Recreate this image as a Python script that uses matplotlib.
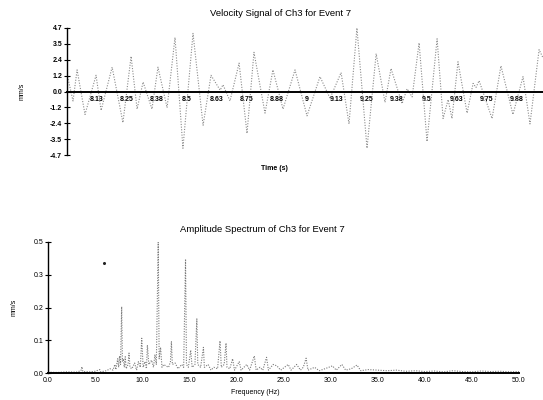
import matplotlib
matplotlib.use('Agg')
import matplotlib.pyplot as plt

plt.rcParams['font.family'] = ['Liberation Sans', 'DejaVu Sans']

# velocity signal, extrema (s, mm/s)
t = [8.000, 8.025, 8.042, 8.075, 8.121, 8.142, 8.188, 8.233, 8.267, 8.292,
     8.317, 8.354, 8.379, 8.417, 8.450, 8.483, 8.525, 8.567, 8.600, 8.638,
     8.650, 8.679, 8.717, 8.750, 8.779, 8.825, 8.858, 8.900, 8.950, 9.000,
     9.054, 9.096, 9.142, 9.175, 9.208, 9.250, 9.288, 9.325, 9.350, 9.396,
     9.417, 9.438, 9.467, 9.500, 9.542, 9.567, 9.588, 9.604, 9.629, 9.667,
     9.692, 9.704, 9.717, 9.771, 9.808, 9.858, 9.900, 9.929, 9.967, 9.983]
vel = [1.3, -0.7, 1.6, -1.7, 1.2, -1.4, 1.8, -2.3, 2.6, -1.3,
       0.7, -1.3, 1.8, -1.2, 4.0, -4.2, 4.3, -2.5, 1.2, 0.1,
       0.5, -0.7, 2.1, -3.1, 2.9, -1.6, 1.6, -1.3, 1.6, -1.8,
       1.1, -0.5, 1.4, -2.4, 4.7, -4.2, 2.8, -0.8, 1.7, -0.9,
       0.2, -0.4, 3.6, -3.7, 3.9, -2.0, -0.6, -2.0, 2.2, -1.6,
       0.6, 0.3, 0.8, -2.0, 1.9, -1.7, 1.1, -2.4, 3.1, 2.5]

t_ticks = [8.125, 8.25, 8.375, 8.5, 8.625, 8.75, 8.875, 9.0, 9.125, 9.25,
           9.375, 9.5, 9.625, 9.75, 9.875]
t_labels = ['8.13', '8.25', '8.38', '8.5', '8.63', '8.75', '8.88', '9', '9.13',
            '9.25', '9.38', '9.5', '9.63', '9.75', '9.88']
v_ticks = [-4.7, -3.525, -2.35, -1.175, 0, 1.175, 2.35, 3.525, 4.7]
v_labels = ['-4.7', '-3.5', '-2.4', '-1.2', '0.0', '1.2', '2.4', '3.5', '4.7']

# amplitude spectrum (Hz, mm/s)
freq = [0.0, 1.0, 2.0, 3.0, 3.5, 3.6, 3.7, 4.5, 5.0, 5.5, 5.6, 6.2, 6.6, 6.9,
        7.1, 7.2, 7.4, 7.5, 7.6, 7.7, 7.82, 7.9, 8.0, 8.1, 8.2, 8.3, 8.5, 8.6,
        8.7, 8.9, 9.2, 9.4, 9.6, 9.8, 9.95, 10.1, 10.3, 10.45, 10.55, 10.7,
        11.0, 11.2, 11.35, 11.5, 11.7, 11.8, 11.95, 12.1, 12.3, 12.5, 12.8,
        13.0, 13.1, 13.2, 13.5, 13.8, 14.2, 14.4, 14.6, 14.7, 14.9, 15.15,
        15.3, 15.6, 15.8, 15.9, 16.2, 16.5, 16.6, 17.0, 17.3, 17.6, 18.0,
        18.26, 18.4, 18.7, 18.9, 19.0, 19.3, 19.6, 19.8, 20.3, 20.5, 20.8,
        21.1, 21.4, 21.9, 22.1, 22.5, 22.8, 23.2, 23.4, 23.9, 24.3, 24.7,
        25.1, 25.5, 25.8, 26.4, 26.8, 27.1, 27.4, 27.6, 28.3, 28.8, 29.4,
        30.2, 30.6, 31.2, 31.6, 32.2, 32.8, 33.2, 34.0, 35.0, 36.0, 37.0,
        38.0, 39.0, 40.0, 41.0, 42.0, 43.0, 44.0, 45.0, 46.0, 47.0, 48.0,
        49.0, 50.0]
amp = [0.003, 0.002, 0.004, 0.003, 0.008, 0.022, 0.005, 0.004, 0.006, 0.012,
       0.004, 0.008, 0.015, 0.010, 0.030, 0.012, 0.050, 0.020, 0.060, 0.030,
       0.233, 0.040, 0.050, 0.020, 0.057, 0.015, 0.030, 0.070, 0.020, 0.015,
       0.035, 0.010, 0.040, 0.020, 0.122, 0.020, 0.040, 0.015, 0.098, 0.030,
       0.045, 0.020, 0.065, 0.030, 0.460, 0.050, 0.090, 0.020, 0.030, 0.025,
       0.020, 0.040, 0.110, 0.030, 0.035, 0.015, 0.030, 0.020, 0.400, 0.030,
       0.020, 0.080, 0.020, 0.030, 0.190, 0.030, 0.020, 0.090, 0.020, 0.030,
       0.010, 0.020, 0.015, 0.113, 0.020, 0.030, 0.105, 0.020, 0.015, 0.050,
       0.010, 0.040, 0.010, 0.020, 0.030, 0.010, 0.060, 0.010, 0.020, 0.010,
       0.055, 0.010, 0.030, 0.025, 0.010, 0.020, 0.030, 0.010, 0.030, 0.010,
       0.020, 0.052, 0.010, 0.020, 0.008, 0.015, 0.025, 0.010, 0.030, 0.010,
       0.015, 0.028, 0.008, 0.012, 0.010, 0.008, 0.010, 0.006, 0.008, 0.005,
       0.007, 0.004, 0.008, 0.005, 0.004, 0.007, 0.005, 0.006, 0.004, 0.005]
f_ticks = [0, 5, 10, 15, 20, 25, 30, 35, 40, 45, 50]
a_ticks = [0, 0.115, 0.23, 0.345, 0.46]
a_labels = ['0.0', '0.1', '0.2', '0.3', '0.5']
# stray speck on the scan
speck_f, speck_a = [5.9], [0.387]

fig = plt.figure(figsize=(5.43, 4.0), dpi=100)

# --- velocity signal
ax1 = fig.add_axes([0.1234, 0.6125, 0.884, 0.3175])
ax1.plot(t, vel, color='#8a8a8a', lw=0.8, ls=(0, (1, 1.4)))
ax1.set_xlim(8.0, 10.0)
ax1.set_ylim(-4.7, 4.7)
for s in ['top', 'right']:
    ax1.spines[s].set_visible(False)
ax1.spines['bottom'].set_position(('data', 0))
ax1.spines['bottom'].set_linewidth(1.4)
ax1.spines['left'].set_linewidth(1.0)
ax1.set_xticks(t_ticks)
ax1.set_xticklabels(t_labels, fontsize=5.0, fontweight='bold')
ax1.tick_params(axis='x', length=0, pad=3)
ax1.set_yticks(v_ticks)
ax1.set_yticklabels(v_labels, fontsize=5.0, fontweight='bold')
ax1.tick_params(axis='y', direction='inout', length=5, width=0.8, pad=1)
ax1.patch.set_visible(False)

fig.text(0.516, 0.9675, 'Velocity Signal of Ch3 for Event 7', ha='center', va='center', fontsize=6.8)
fig.text(0.506, 0.58, 'Time (s)', ha='center', va='center', fontsize=5.0, fontweight='bold')
fig.text(0.0405, 0.7725, 'mm/s', ha='center', va='center', rotation=90, fontsize=5.0)

# --- amplitude spectrum
ax2 = fig.add_axes([0.0884, 0.0675, 0.8674, 0.3275])
ax2.plot(freq, amp, color='#7a7a7a', lw=0.8, ls=(0, (1, 1.3)))
ax2.plot(speck_f, speck_a, 'o', color='#222222', ms=1.2)
ax2.set_xlim(0, 50)
ax2.set_ylim(0, 0.46)
for s in ['top', 'right']:
    ax2.spines[s].set_visible(False)
ax2.spines['bottom'].set_linewidth(1.4)
ax2.spines['left'].set_linewidth(1.0)
ax2.set_xticks(f_ticks)
ax2.set_xticklabels([f'{v:.1f}' for v in f_ticks], fontsize=5.0)
ax2.tick_params(axis='x', length=0, pad=3)
ax2.set_yticks(a_ticks)
ax2.set_yticklabels(a_labels, fontsize=5.0)
ax2.tick_params(axis='y', direction='inout', length=5, width=0.8, pad=1)
ax2.patch.set_visible(False)

fig.text(0.484, 0.4275, 'Amplitude Spectrum of Ch3 for Event 7', ha='center', va='center', fontsize=6.8)
fig.text(0.47, 0.0175, 'Frequency (Hz)', ha='center', va='center', fontsize=5.0)
fig.text(0.026, 0.2325, 'mm/s', ha='center', va='center', rotation=90, fontsize=5.0)

fig.savefig('out.png', dpi=100)
